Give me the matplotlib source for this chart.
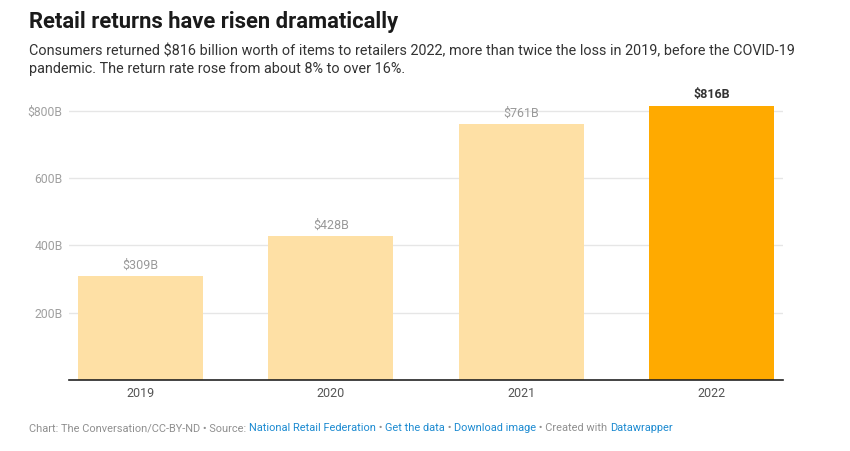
import matplotlib.pyplot as plt

years = ["2019", "2020", "2021", "2022"]
returns = [309, 428, 761, 816]
yticks = [200, 400, 600, 800]
ytick_labels = ["200B", "400B", "600B", "$800B"]

plt.rcParams['font.family'] = ['Roboto', 'DejaVu Sans']

fig = plt.figure(figsize=(8.5, 4.51), dpi=100)
ax = fig.add_axes([69/850, 71/451, 714/850, 296/451])

x = range(len(years))
colors = ["#fee0a5"] * 3 + ["#ffaa00"]
ax.bar(x, returns, width=0.656, color=colors, zorder=2)

for i, v in enumerate(returns):
    last = i == len(returns) - 1
    ax.text(i, v + 12, "$%dB" % v, ha="center", va="bottom",
            fontsize=9, color="#333333" if last else "#999999",
            fontweight="bold" if last else "normal")

ax.set_xlim(-0.375, 3.375)
ax.set_ylim(0, 880)
ax.set_yticks(yticks)
ax.set_yticklabels(ytick_labels)
ax.set_xticks(list(x))
ax.set_xticklabels(years)
ax.grid(axis="y", color="#e6e6e6", linewidth=1, zorder=0)
ax.tick_params(axis="y", length=0, labelsize=8.8, labelcolor="#a0a0a0", pad=4.5)
ax.tick_params(axis="x", length=0, labelsize=9, labelcolor="#555555", pad=5)
for s in ["top", "right", "left"]:
    ax.spines[s].set_visible(False)
ax.spines["bottom"].set_color("#222222")
ax.spines["bottom"].set_linewidth(1.2)
ax.spines["bottom"].set_zorder(3)

fig.text(29/850, 1 - 28/451, "Retail returns have risen dramatically",
         fontsize=15.8, fontweight="bold", color="#1a1a1a", va="baseline")
fig.text(29/850, 1 - 55/451,
         "Consumers returned $816 billion worth of items to retailers 2022, more than twice the loss in 2019, before the COVID-19",
         fontsize=10.4, color="#333333", va="baseline")
fig.text(29/850, 1 - 73/451,
         "pandemic. The return rate rose from about 8% to over 16%.",
         fontsize=10.4, color="#333333", va="baseline")

# footer with coloured links
parts = [("Chart: The Conversation/CC-BY-ND \u2022 Source: ", "#909090"),
         ("National Retail Federation", "#1d8bd1"),
         (" \u2022 ", "#909090"),
         ("Get the data", "#1d8bd1"),
         (" \u2022 ", "#909090"),
         ("Download image", "#1d8bd1"),
         (" \u2022 Created with ", "#909090"),
         ("Datawrapper", "#1d8bd1")]
fig.canvas.draw()
renderer = fig.canvas.get_renderer()
xpos = 29/850
for txt, c in parts:
    t = fig.text(xpos, 1 - 431/451, txt, fontsize=7.9, color=c, va="baseline")
    bb = t.get_window_extent(renderer=renderer)
    xpos += bb.width / fig.bbox.width

fig.savefig("out.png", dpi=100)
